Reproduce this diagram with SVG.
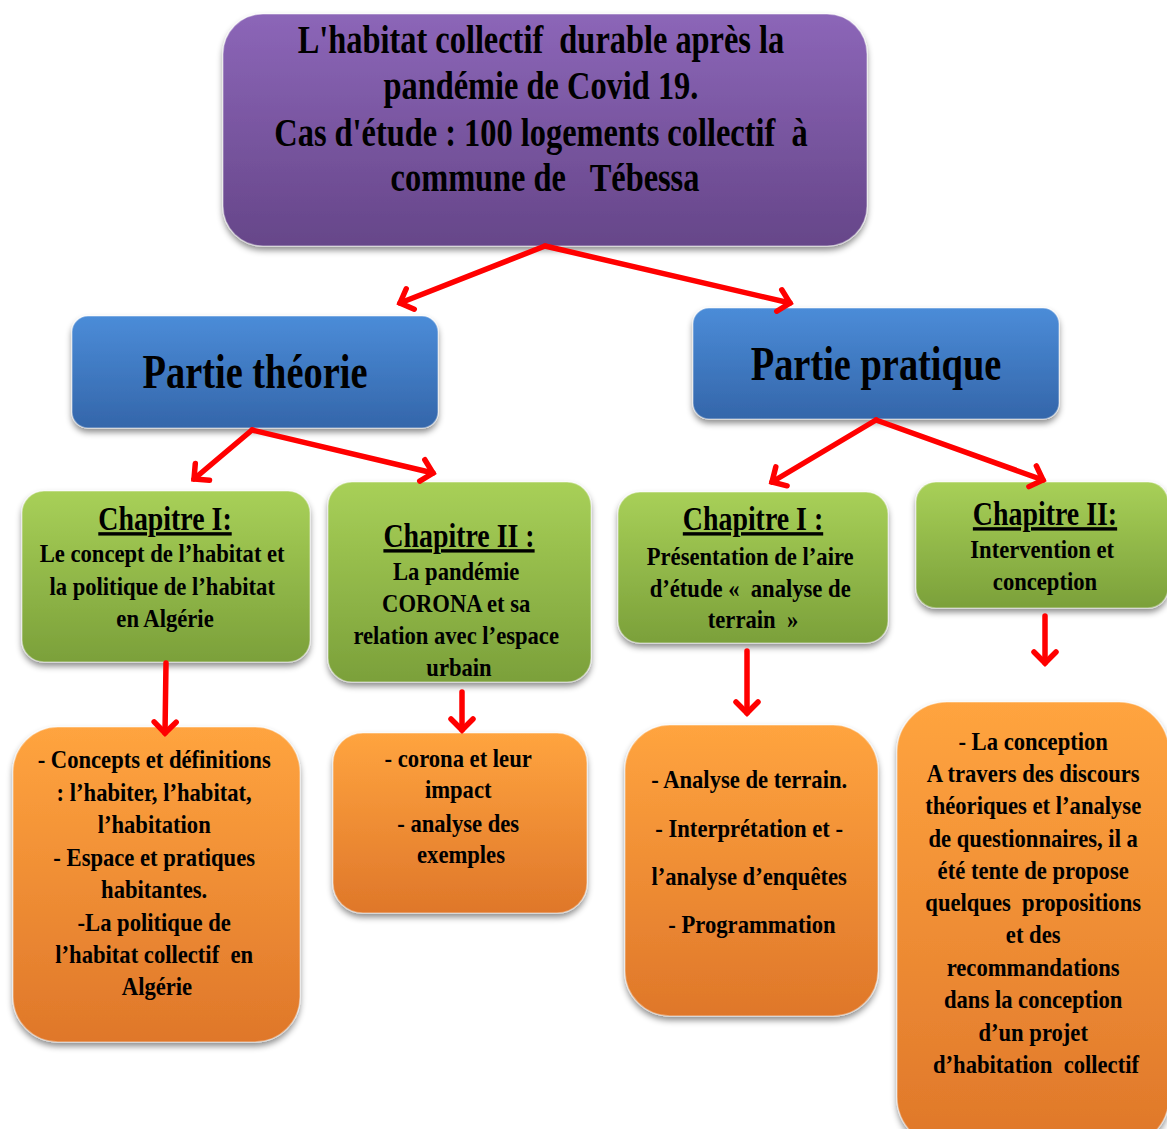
<svg xmlns="http://www.w3.org/2000/svg" width="1167" height="1129" viewBox="0 0 1167 1129">
<defs>
  <linearGradient id="gPurple" x1="0" y1="0" x2="0" y2="1">
    <stop offset="0" stop-color="#8C66B8"/>
    <stop offset="1" stop-color="#664689"/>
  </linearGradient>
  <linearGradient id="gBlue" x1="0" y1="0" x2="0" y2="1">
    <stop offset="0" stop-color="#4B8CD8"/>
    <stop offset="1" stop-color="#3466AA"/>
  </linearGradient>
  <linearGradient id="gGreen" x1="0" y1="0" x2="0" y2="1">
    <stop offset="0" stop-color="#A8D058"/>
    <stop offset="1" stop-color="#7BA03A"/>
  </linearGradient>
  <linearGradient id="gOrange" x1="0" y1="0" x2="0" y2="1">
    <stop offset="0" stop-color="#FFA43F"/>
    <stop offset="1" stop-color="#DF772A"/>
  </linearGradient>
  <filter id="shadow" x="-10%" y="-10%" width="120%" height="130%">
    <feDropShadow dx="0" dy="4" stdDeviation="3" flood-color="#000" flood-opacity="0.45"/>
  </filter>
  <marker id="chev" markerUnits="userSpaceOnUse" markerWidth="30" markerHeight="30" viewBox="-15 -15 30 30" refX="0" refY="0" orient="auto">
    <path d="M-11,-11 L0,0 L-11,11" fill="none" stroke="#FF0000" stroke-width="5.5" stroke-linecap="round" stroke-linejoin="miter"/>
  </marker>
  <style>
    .t { font-family: "Liberation Serif", "Times New Roman", serif; font-weight: bold; fill: #000; text-anchor: middle; }
    .title { font-size: 40px; }
    .part { font-size: 48px; }
    .chap { font-size: 34px; text-decoration: underline; }
    .body { font-size: 26px; }
    .box { filter: url(#shadow); stroke: rgba(255,255,255,0.35); stroke-width: 1.5; }
    .conn { fill: none; stroke: #FF0000; stroke-width: 5.5; stroke-linecap: round; stroke-linejoin: miter; marker-end: url(#chev); }
  </style>
</defs>
<rect width="1167" height="1129" fill="#FFFFFF"/>

<g id="n-title">
  <rect class="box" x="223" y="14" width="644" height="232" rx="40" fill="url(#gPurple)"/>
  <text class="t title" transform="translate(545 0) scale(0.81 1)">
    <tspan x="0" y="53">L'habitat collectif&#160; durable après la</tspan>
    <tspan x="0" y="99">pandémie de Covid 19.</tspan>
    <tspan x="0" y="146">Cas d'étude : 100 logements collectif&#160; à</tspan>
    <tspan x="0" y="191">commune de&#160;&#160; Tébessa</tspan>
  </text>
</g>

<g id="n-theorie">
  <rect class="box" x="72" y="316" width="366" height="112" rx="16" fill="url(#gBlue)"/>
  <text class="t part" transform="translate(255 0) scale(0.8 1)"><tspan x="0" y="388">Partie théorie</tspan></text>
</g>

<g id="n-pratique">
  <rect class="box" x="693" y="308" width="366" height="111" rx="16" fill="url(#gBlue)"/>
  <text class="t part" transform="translate(876 0) scale(0.8 1)"><tspan x="0" y="380">Partie pratique</tspan></text>
</g>

<g id="n-ch1-theorie">
  <rect class="box" x="22" y="491" width="288" height="171" rx="22" fill="url(#gGreen)"/>
  <text class="t chap" transform="translate(165 0) scale(0.82 1)"><tspan x="0" y="530">Chapitre I:</tspan></text>
  <text class="t body" transform="translate(165 0) scale(0.87 1)">
    <tspan x="0" y="562">Le concept de l’habitat et</tspan>
    <tspan x="0" y="595">la politique de l’habitat</tspan>
    <tspan x="0" y="627">en Algérie</tspan>
  </text>
</g>

<g id="n-ch2-theorie">
  <rect class="box" x="328" y="482" width="263" height="200" rx="24" fill="url(#gGreen)"/>
  <text class="t chap" transform="translate(459 0) scale(0.82 1)"><tspan x="0" y="547">Chapitre II :</tspan></text>
  <text class="t body" transform="translate(459 0) scale(0.87 1)">
    <tspan x="0" y="580">La pandémie</tspan>
    <tspan x="0" y="612">CORONA et sa</tspan>
    <tspan x="0" y="644">relation avec l’espace</tspan>
    <tspan x="0" y="676">urbain</tspan>
  </text>
</g>

<g id="n-ch1-pratique">
  <rect class="box" x="618" y="492" width="270" height="151" rx="22" fill="url(#gGreen)"/>
  <text class="t chap" transform="translate(753 0) scale(0.82 1)"><tspan x="0" y="530">Chapitre I :</tspan></text>
  <text class="t body" transform="translate(753 0) scale(0.87 1)">
    <tspan x="0" y="565">Présentation de l’aire</tspan>
    <tspan x="0" y="597">d’étude «&#160; analyse de</tspan>
    <tspan x="0" y="628">terrain&#160; »</tspan>
  </text>
</g>

<g id="n-ch2-pratique">
  <rect class="box" x="916" y="482" width="252" height="126" rx="20" fill="url(#gGreen)"/>
  <text class="t chap" transform="translate(1045 0) scale(0.82 1)"><tspan x="0" y="525">Chapitre II:</tspan></text>
  <text class="t body" transform="translate(1045 0) scale(0.87 1)">
    <tspan x="0" y="558">Intervention et</tspan>
    <tspan x="0" y="590">conception</tspan>
  </text>
</g>

<g id="n-contenu-ch1-theorie">
  <rect class="box" x="13" y="727" width="287" height="315" rx="45" fill="url(#gOrange)"/>
  <text class="t body" transform="translate(157 0) scale(0.87 1)">
    <tspan x="0" y="768">- Concepts et définitions</tspan>
    <tspan x="0" y="801">: l’habiter, l’habitat,</tspan>
    <tspan x="0" y="833">l’habitation</tspan>
    <tspan x="0" y="866">- Espace et pratiques</tspan>
    <tspan x="0" y="898">habitantes.</tspan>
    <tspan x="0" y="931">-La politique de</tspan>
    <tspan x="0" y="963">l’habitat collectif&#160; en</tspan>
    <tspan x="0" y="995">Algérie</tspan>
  </text>
</g>

<g id="n-contenu-ch2-theorie">
  <rect class="box" x="333" y="733" width="254" height="180" rx="30" fill="url(#gOrange)"/>
  <text class="t body" transform="translate(461 0) scale(0.87 1)">
    <tspan x="0" y="767">- corona et leur</tspan>
    <tspan x="0" y="798">impact</tspan>
    <tspan x="0" y="832">- analyse des</tspan>
    <tspan x="0" y="863">exemples</tspan>
  </text>
</g>

<g id="n-contenu-ch1-pratique">
  <rect class="box" x="625" y="725" width="253" height="291" rx="45" fill="url(#gOrange)"/>
  <text class="t body" transform="translate(752 0) scale(0.87 1)">
    <tspan x="0" y="788">- Analyse de terrain.</tspan>
    <tspan x="0" y="837">- Interprétation et -</tspan>
    <tspan x="0" y="885">l’analyse d’enquêtes</tspan>
    <tspan x="0" y="933">- Programmation</tspan>
  </text>
</g>

<g id="n-contenu-ch2-pratique">
  <rect class="box" x="897" y="702" width="272" height="445" rx="50" fill="url(#gOrange)"/>
  <text class="t body" transform="translate(1036 0) scale(0.87 1)">
    <tspan x="0" y="750">- La conception</tspan>
    <tspan x="0" y="782">A travers des discours</tspan>
    <tspan x="0" y="814">théoriques et l’analyse</tspan>
    <tspan x="0" y="847">de questionnaires, il a</tspan>
    <tspan x="0" y="879">été tente de propose</tspan>
    <tspan x="0" y="911">quelques&#160; propositions</tspan>
    <tspan x="0" y="943">et des</tspan>
    <tspan x="0" y="976">recommandations</tspan>
    <tspan x="0" y="1008">dans la conception</tspan>
    <tspan x="0" y="1041">d’un projet</tspan>
    <tspan x="0" y="1073">d’habitation&#160; collectif</tspan>
  </text>
</g>

<g id="connectors">
  <path class="conn" d="M545,246 L400,303"/>
  <path class="conn" d="M545,246 L790,303"/>
  <path class="conn" d="M252,430 L194,479"/>
  <path class="conn" d="M252,430 L433,473"/>
  <path class="conn" d="M876,420 L772,482"/>
  <path class="conn" d="M876,420 L1043,480"/>
  <path class="conn" d="M166,663 L165,733"/>
  <path class="conn" d="M462,692 L462,730"/>
  <path class="conn" d="M747,651 L747,713"/>
  <path class="conn" d="M1045,616 L1045,663"/>
</g>
</svg>
